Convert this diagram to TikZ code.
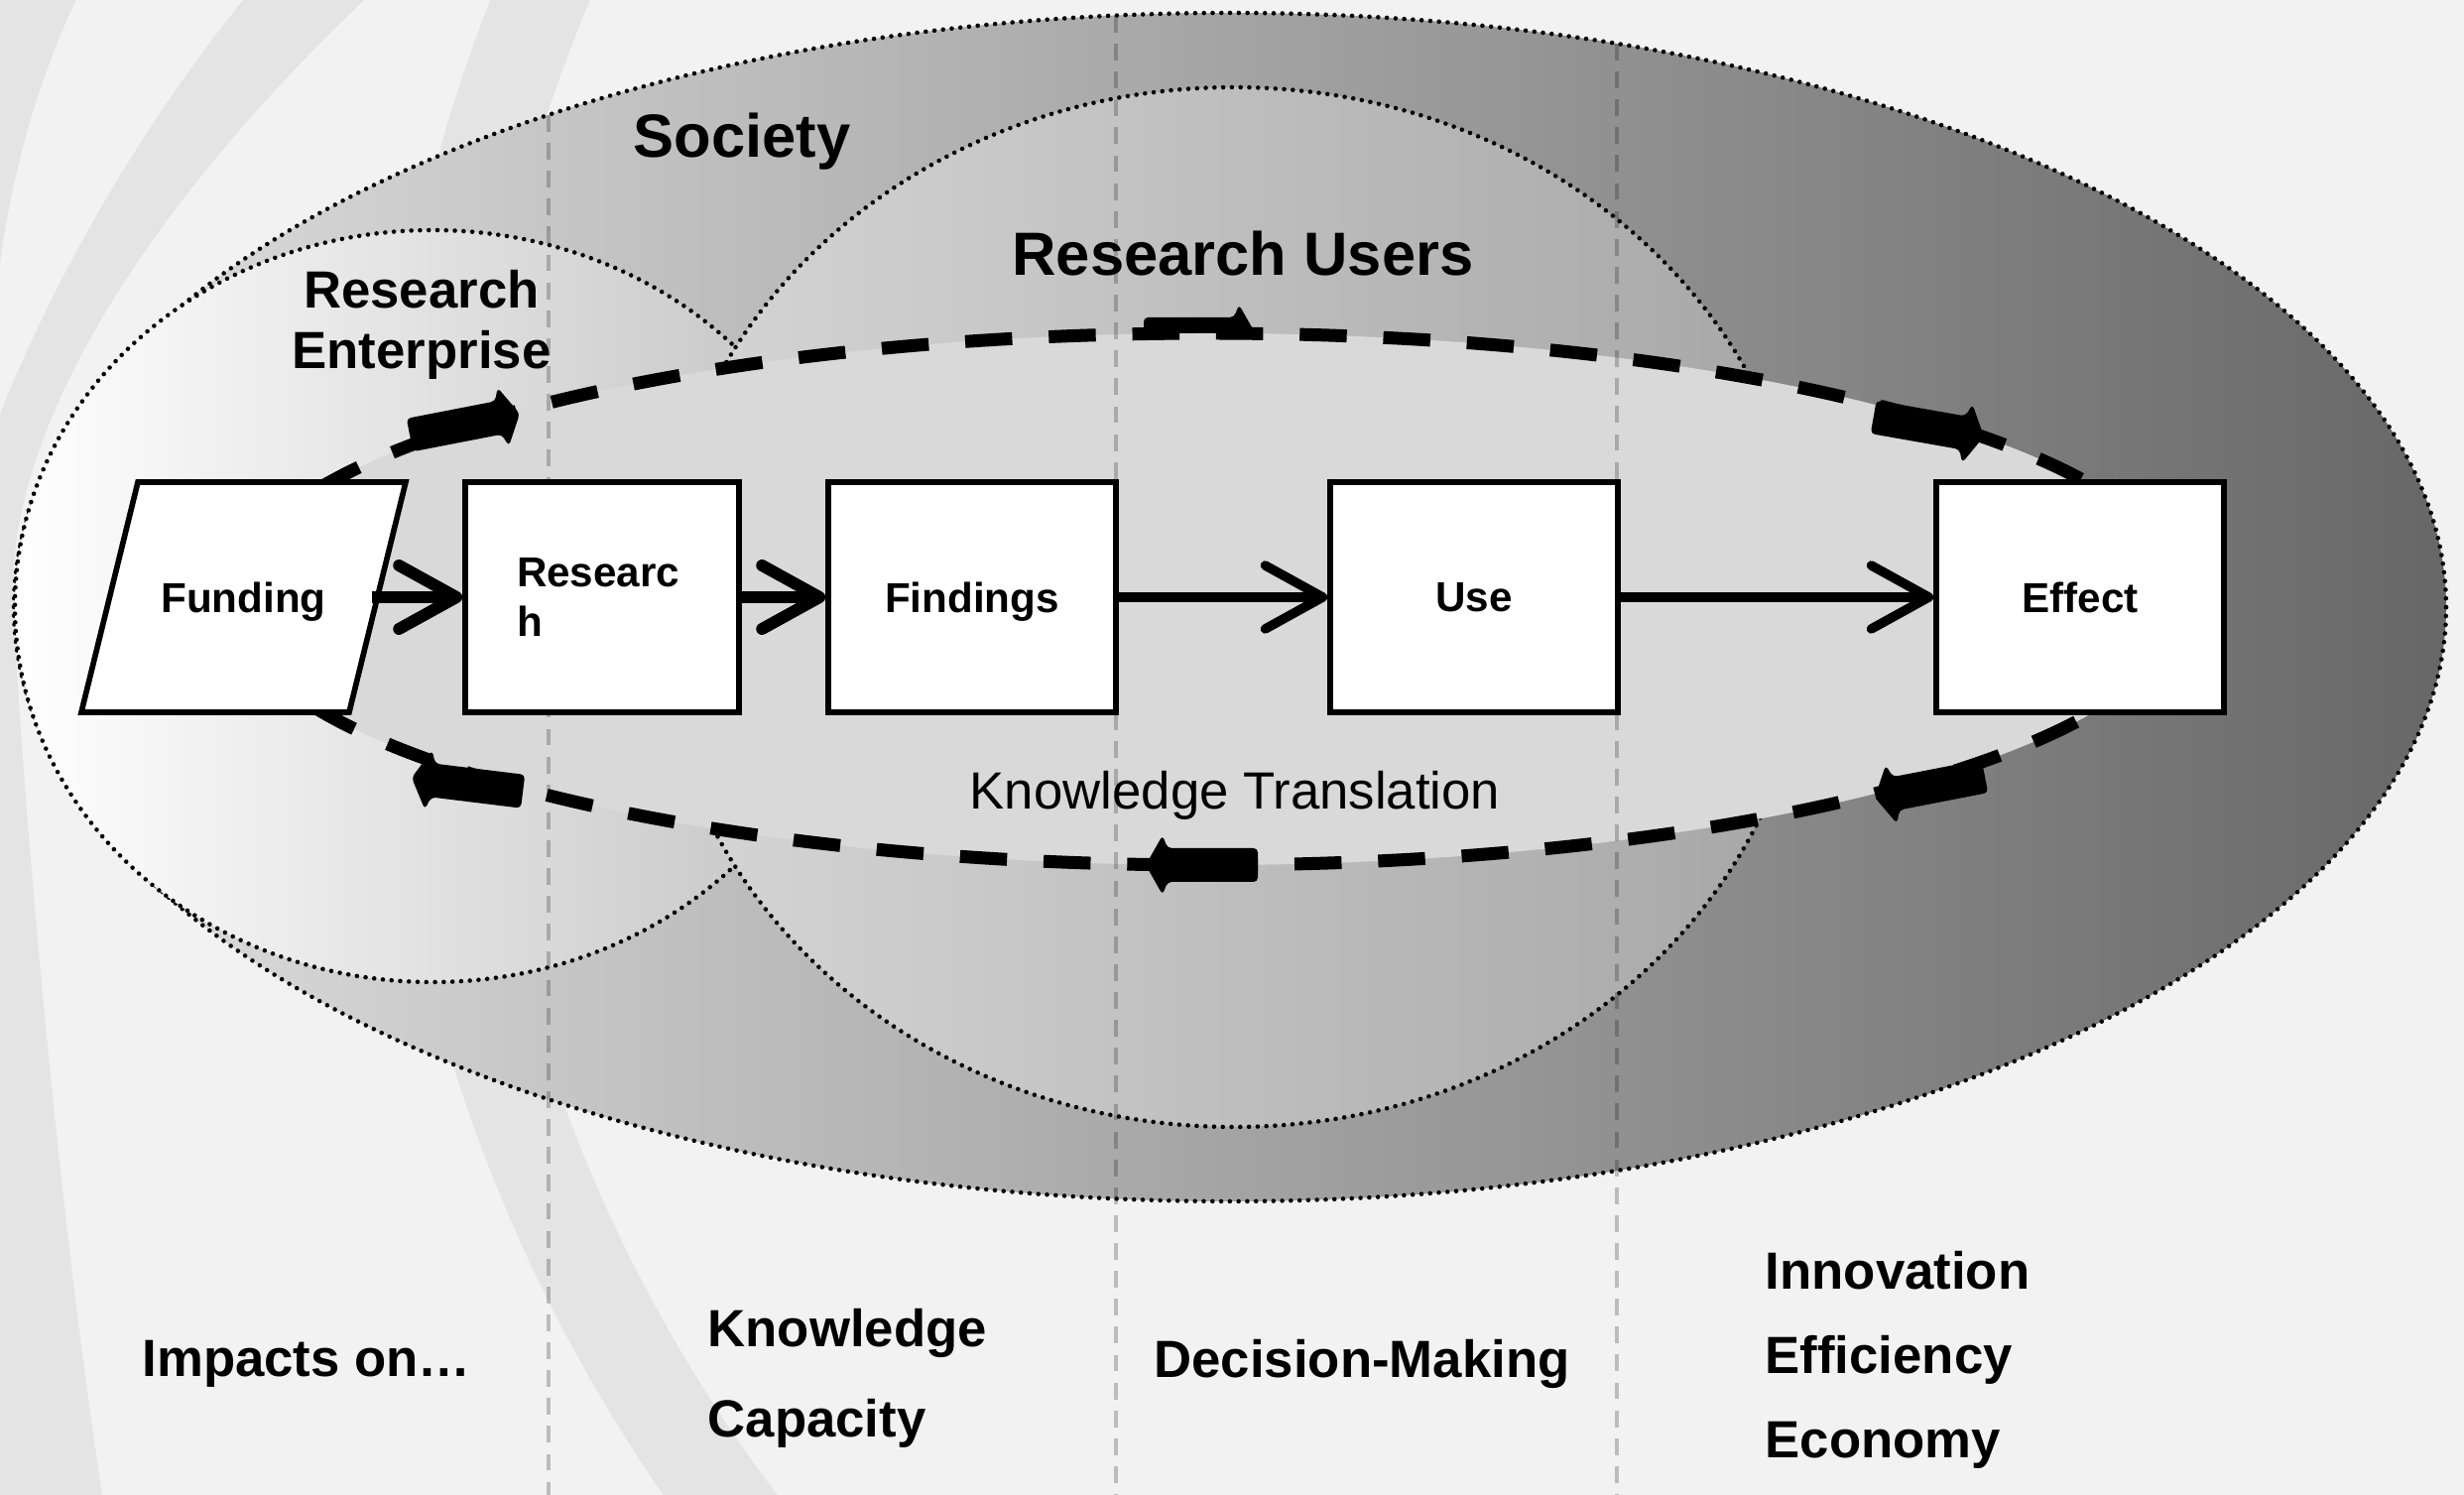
\documentclass[tikz,border=0pt]{standalone}
\usepackage{fontspec}
\setmainfont{Liberation Sans}
\usetikzlibrary{arrows.meta}

\definecolor{pagebg}{HTML}{F2F2F2}
\definecolor{swoosh}{HTML}{E4E4E4}
\definecolor{socleft}{HTML}{E1E1E1}
\definecolor{socright}{HTML}{676767}
\definecolor{entleft}{HTML}{FFFFFF}
\definecolor{entright}{HTML}{C3C3C3}
\definecolor{usrleft}{HTML}{D6D6D6}
\definecolor{usrright}{HTML}{A6A6A6}
\definecolor{ktfill}{HTML}{D9D9D9}

\begin{document}
\begin{tikzpicture}[
    dotline/.style={line width=1.3pt, dash pattern=on 0pt off 2.5pt, line cap=round},
    ktline/.style={line width=3.7pt, dash pattern=on 13.5pt off 10.5pt},
    sepline/.style={line width=1.4pt, dash pattern=on 4.8pt off 3.2pt, black, opacity=0.22},
    stage/.style={draw, line width=1.6pt, fill=white, minimum width=2.9cm,
        minimum height=2.32cm, font=\fontsize{12}{14}\selectfont\bfseries},
    oneline/.style={stage, text depth=0pt},
    flow/.style={line width=2.7pt, -{Straight Barb[length=0.58cm, width=0.64cm, round]}},
    heavyflow/.style={flow, line width=3.4pt},
    zone/.style={inner sep=0pt, font=\fontsize{15}{18}\selectfont\bfseries},
    ktarrow/.pic={
        \fill[rounded corners=1.2pt] (0,0) -- (-0.17,0.3) -- (-0.22,0.17)
            -- (-1.13,0.17) -- (-1.13,-0.17) -- (-0.22,-0.17) -- (-0.17,-0.3) -- cycle;
    }
]
    \useasboundingbox (0,0) rectangle (24.84,15.07);
    \fill[pagebg] (0,0) rectangle (24.84,15.07);

    \begin{scope}
        \clip (0,0) rectangle (24.84,15.07);
        \fill[swoosh] (0,15.07) -- (3.67,15.07) .. controls (1.5,13.0) and (0.1,10.8) .. (0.13,9.07)
            .. controls (0.18,7.8) and (0.5,3.5) .. (1.03,0) -- (0,0) -- cycle;
        \fill[pagebg] (0.77,15.07) .. controls (0.35,14.2) and (0.1,13.2) .. (0,12.4)
            -- (0,10.9) .. controls (0.6,12.4) and (1.5,13.9) .. (2.45,15.07) -- cycle;
        \fill[swoosh, even odd rule] (19.96,9.17) circle (16.13) (19.96,9.17) circle (15.2);
    \end{scope}

    \draw[dotline, left color=socleft, right color=socright]
        (12.40,8.95) ellipse [x radius=12.26, y radius=5.99];
    \draw[dotline, left color=entleft, right color=entright]
        (4.36,8.96) ellipse [x radius=4.21, y radius=3.79];
    \draw[dotline, left color=usrleft, right color=usrright]
        (12.44,8.95) ellipse [x radius=5.80, y radius=5.24];

    \path (12.66,11.70) pic {ktarrow};
    \fill[ktfill] (12.18,9.03) ellipse [x radius=9.86, y radius=2.68];

    \foreach \x/\top in {5.53/13.91, 11.25/14.91, 16.30/14.63}
        \draw[sepline] (\x,\top) -- (\x,0);

    \draw[ktline] (12.18,9.03) ellipse [x radius=9.86, y radius=2.68];
    \path (5.24,10.90) pic[rotate=11] {ktarrow};
    \path (20.00,10.67) pic[rotate=-10] {ktarrow};
    \path (18.90,7.03) pic[rotate=191] {ktarrow};
    \path (11.55,6.35) pic[rotate=180] {ktarrow};
    \path (4.15,7.23) pic[rotate=173] {ktarrow};

    \draw[line width=1.6pt, fill=white]
        (0.82,7.89) -- (3.52,7.89) -- (4.09,10.21) -- (1.39,10.21) -- cycle;
    \node[oneline, draw=none, fill=none, minimum width=2.54cm] (fund) at (2.455,9.05) {Funding};
    \node[stage, minimum width=2.76cm, text width=1.72cm, align=left] (res) at (6.07,9.05) {Researc\\h};
    \node[oneline] (find) at (9.80,9.05) {Findings};
    \node[oneline] (use) at (14.86,9.05) {Use};
    \node[oneline] (eff) at (20.97,9.05) {Effect};

    \draw[heavyflow] (fund) -- (res);
    \draw[heavyflow] (res) -- (find);
    \draw[flow] (find) -- (use);
    \draw[flow] (use) -- (eff);

    \node[font=\fontsize{17.5}{20}\selectfont\bfseries] (soc) at (7.48,13.64) {Society};
    \node[font=\fontsize{17.5}{20}\selectfont\bfseries] (users) at (12.53,12.51) {Research Users};
    \node[zone, align=center, font=\fontsize{15}{17.3}\selectfont\bfseries] (ent) at (4.25,11.80)
        {Research\\Enterprise};
    \node[inner sep=0pt, font=\fontsize{15}{18}\selectfont] (kt) at (12.45,7.05) {Knowledge Translation};

    \node[zone] (impacts) at (3.09,1.32) {Impacts on…};
    \node[zone, anchor=west, align=left, font=\fontsize{15}{25.8}\selectfont\bfseries] (know)
        at (7.13,1.175) {Knowledge\\Capacity};
    \node[zone] (decide) at (13.73,1.32) {Decision-Making};
    \node[zone, anchor=west, align=left, font=\fontsize{15}{24.2}\selectfont\bfseries] (econ)
        at (17.79,1.36) {Innovation\\Efficiency\\Economy};
\end{tikzpicture}
\end{document}
